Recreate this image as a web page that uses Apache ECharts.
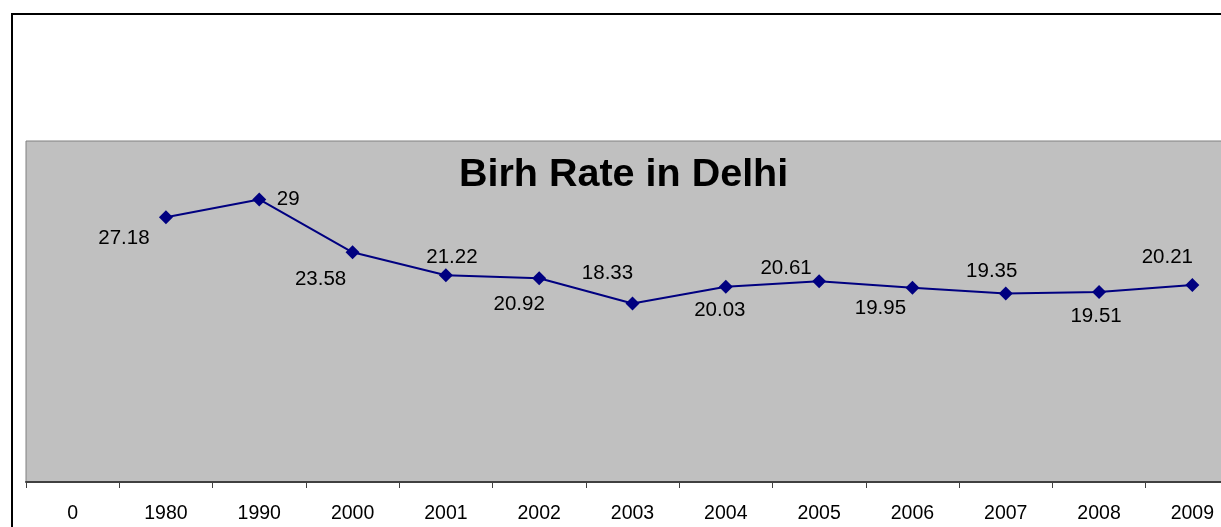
<!DOCTYPE html>
<html>
<head>
<meta charset="utf-8">
<title>Birh Rate in Delhi</title>
<script src="https://cdn.jsdelivr.net/npm/echarts@6/dist/echarts.min.js"></script>
<style>
  html, body { margin: 0; padding: 0; background: #fff; overflow: hidden; }
  #main { width: 1221px; height: 527px; }
</style>
</head>
<body>
<div id="main"></div>
<script>
// chart data
const years = ['0', '1980', '1990', '2000', '2001', '2002', '2003', '2004', '2005', '2006', '2007', '2008', '2009'];
const birthRate = [null, 27.18, 29, 23.58, 21.22, 20.92, 18.33, 20.03, 20.61, 19.95, 19.35, 19.51, 20.21];

// where each value label sits around its marker (hand placed in the original)
const labelShift = [
  [0, 0], [-42, 21], [29, 0], [-32, 27], [6, -18], [-20, 26], [-25, -30],
  [-6, 23], [-33, -13], [-32, 21], [-14, -22], [-3, 24], [-25, -28]
];

const font = 'Liberation Sans, Arial, sans-serif';

let chart = echarts.init(document.getElementById('main'));

let option = {
  backgroundColor: '#fff',
  animation: false,
  title: {
    text: 'Birh Rate in Delhi',
    left: 459,
    top: 155,
    padding: 0,
    textStyle: { fontFamily: font, fontSize: 39.5, fontWeight: 'bold', color: '#000' }
  },
  graphic: [
    {
      type: 'rect',
      left: 11, top: 13, z: -1,
      shape: { width: 1400, height: 700 },
      style: { fill: 'transparent', stroke: '#000', lineWidth: 2 }
    }
  ],
  grid: {
    left: 26,
    top: 141,
    width: 1213,
    height: 341,
    outerBoundsMode: 'none',
    show: true,
    backgroundColor: '#c0c0c0',
    borderColor: '#808080',
    borderWidth: 1
  },
  xAxis: {
    type: 'category',
    data: years,
    boundaryGap: true,
    axisLine: { lineStyle: { color: '#404040', width: 2 } },
    axisTick: { show: true, length: 6, lineStyle: { color: '#404040', width: 1 } },
    axisLabel: { color: '#000', fontFamily: font, fontSize: 19.5, margin: 22, interval: 0 },
    splitLine: { show: false }
  },
  yAxis: {
    type: 'value',
    min: 0,
    max: 35,
    show: false
  },
  series: [
    {
      name: 'Birth Rate',
      type: 'line',
      data: birthRate.map((v, i) => ({
        value: v,
        label: { offset: labelShift[i] }
      })),
      connectNulls: false,
      symbol: 'diamond',
      symbolSize: 14,
      itemStyle: { color: '#000080' },
      lineStyle: { color: '#000080', width: 2 },
      label: {
        show: true,
        position: 'inside',
        color: '#000',
        fontFamily: font,
        fontSize: 20.5,
        formatter: p => p.value
      }
    }
  ]
};

chart.setOption(option);
</script>
</body>
</html>
